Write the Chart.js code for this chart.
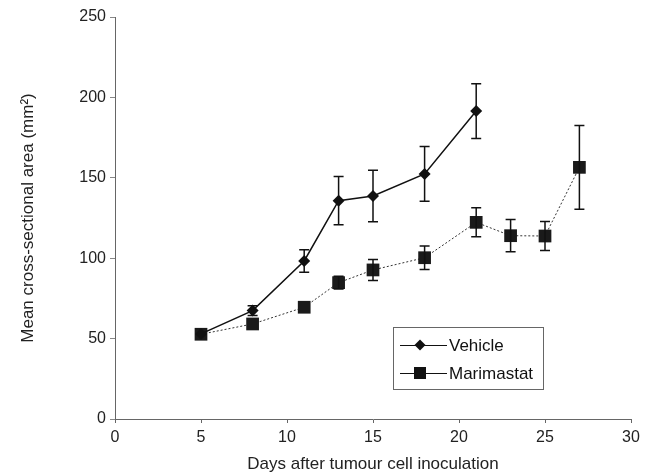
<!DOCTYPE html>
<html>
<head>
<meta charset="utf-8">
<script src="https://cdn.jsdelivr.net/npm/chart.js@4/dist/chart.umd.min.js"></script>
<style>
html,body{margin:0;padding:0;background:#fff;}
#wrap{width:655px;height:475px;position:relative;}
</style>
</head>
<body>
<div id="wrap"><canvas id="c" width="655" height="475"></canvas></div>
<script>
const vehicleDays = [5, 8, 11, 13, 15, 18, 21];
const vehicleMean = [52.9, 67.4, 98.3, 135.8, 138.7, 152.4, 191.5];
const vehicleErr  = [1, 3, 7, 15, 16, 17, 17];

const marimastatDays = [5, 8, 11, 13, 15, 18, 21, 23, 25, 27];
const marimastatMean = [52.7, 59.1, 69.5, 84.8, 92.7, 100.3, 122.3, 114.0, 113.8, 156.5];
const marimastatErr  = [1, 2, 2, 4, 6.5, 7.3, 9, 10, 9, 26];

const xTicks = [0, 5, 10, 15, 20, 25, 30];
const yTicks = [0, 50, 100, 150, 200, 250];
const seriesLabels = ['Vehicle', 'Marimastat'];

const FONT = "'Liberation Sans', Arial, Helvetica, sans-serif";

const errorBars = {
  id: 'errorBars',
  afterDatasetsDraw(chart) {
    const ctx = chart.ctx;
    const xs = chart.scales.x, ys = chart.scales.y;
    const sets = [[vehicleDays, vehicleMean, vehicleErr], [marimastatDays, marimastatMean, marimastatErr]];
    ctx.save();
    ctx.strokeStyle = '#111';
    ctx.lineWidth = 1.5;
    sets.forEach(([d, m, e]) => {
      d.forEach((day, i) => {
        if (e[i] < 2.5) return;
        const x = xs.getPixelForValue(day);
        const yt = ys.getPixelForValue(m[i] + e[i]);
        const yb = ys.getPixelForValue(m[i] - e[i]);
        ctx.beginPath();
        ctx.moveTo(x, yt); ctx.lineTo(x, yb);
        ctx.moveTo(x - 5, yt); ctx.lineTo(x + 5, yt);
        ctx.moveTo(x - 5, yb); ctx.lineTo(x + 5, yb);
        ctx.stroke();
      });
    });
    ctx.restore();
  }
};

const legendBox = {
  id: 'legendBox',
  afterDraw(chart) {
    const ctx = chart.ctx;
    ctx.save();
    ctx.strokeStyle = '#666';
    ctx.lineWidth = 1;
    ctx.strokeRect(393.5, 327.5, 150, 62);
    const rows = [345, 373];
    ctx.font = '17px ' + FONT;
    ctx.textBaseline = 'middle';
    ctx.fillStyle = '#111';
    rows.forEach((y, i) => {
      ctx.strokeStyle = '#111';
      ctx.lineWidth = 1;
      ctx.beginPath(); ctx.moveTo(400, y + 0.5); ctx.lineTo(447, y + 0.5); ctx.stroke();
      ctx.fillStyle = '#111';
      if (i === 0) {
        ctx.beginPath();
        ctx.moveTo(420, y - 5.5); ctx.lineTo(425.5, y); ctx.lineTo(420, y + 5.5); ctx.lineTo(414.5, y);
        ctx.closePath(); ctx.fill();
      } else {
        ctx.fillRect(414, y - 6, 12, 12);
      }
      ctx.fillText(seriesLabels[i], 449, y + 1);
    });
    ctx.restore();
  }
};

new Chart(document.getElementById('c'), {
  type: 'scatter',
  data: {
    datasets: [
      {
        label: seriesLabels[0],
        data: vehicleDays.map((d, i) => ({x: d, y: vehicleMean[i]})),
        showLine: true,
        borderColor: '#111',
        borderWidth: 1.5,
        backgroundColor: '#111',
        pointStyle: 'rectRot',
        pointRadius: 6,
        pointBorderWidth: 0,
        pointBackgroundColor: '#111'
      },
      {
        label: seriesLabels[1],
        data: marimastatDays.map((d, i) => ({x: d, y: marimastatMean[i]})),
        showLine: true,
        borderColor: '#333',
        borderWidth: 1,
        borderDash: [2, 2],
        backgroundColor: '#1a1a1a',
        pointStyle: 'rect',
        pointRadius: 9,
        pointBorderWidth: 0,
        pointBackgroundColor: '#1a1a1a'
      }
    ]
  },
  options: {
    responsive: false,
    animation: false,
    layout: { padding: { left: 0, right: 24, top: 17, bottom: 0 } },
    plugins: { legend: { display: false }, tooltip: { enabled: false } },
    scales: {
      x: {
        type: 'linear',
        min: 0, max: 30,
        afterBuildTicks(s) { s.ticks = xTicks.map(v => ({value: v})); },
        afterFit(s) { s.height = 56; },
        grid: { drawOnChartArea: false, drawTicks: true, tickLength: 4, color: '#666' },
        border: { display: true, color: '#666', width: 1 },
        ticks: { color: '#222', font: { family: FONT, size: 16 }, padding: 5, maxRotation: 0 },
        title: { display: true, text: 'Days after tumour cell inoculation', color: '#222', font: { family: FONT, size: 17 }, padding: { top: 10, bottom: 0 } }
      },
      y: {
        type: 'linear',
        min: 0, max: 250,
        afterBuildTicks(s) { s.ticks = yTicks.map(v => ({value: v})); },
        afterFit(s) { s.width = 115; },
        grid: { drawOnChartArea: false, drawTicks: true, tickLength: 5, color: '#888' },
        border: { display: true, color: '#666', width: 1 },
        ticks: { color: '#222', font: { family: FONT, size: 16 }, padding: 4 },
        title: { display: true, text: 'Mean cross-sectional area (mm²)', color: '#222', font: { family: FONT, size: 17 }, padding: { top: 18, bottom: 0 } }
      }
    }
  },
  plugins: [errorBars, legendBox]
});
</script>
</body>
</html>
